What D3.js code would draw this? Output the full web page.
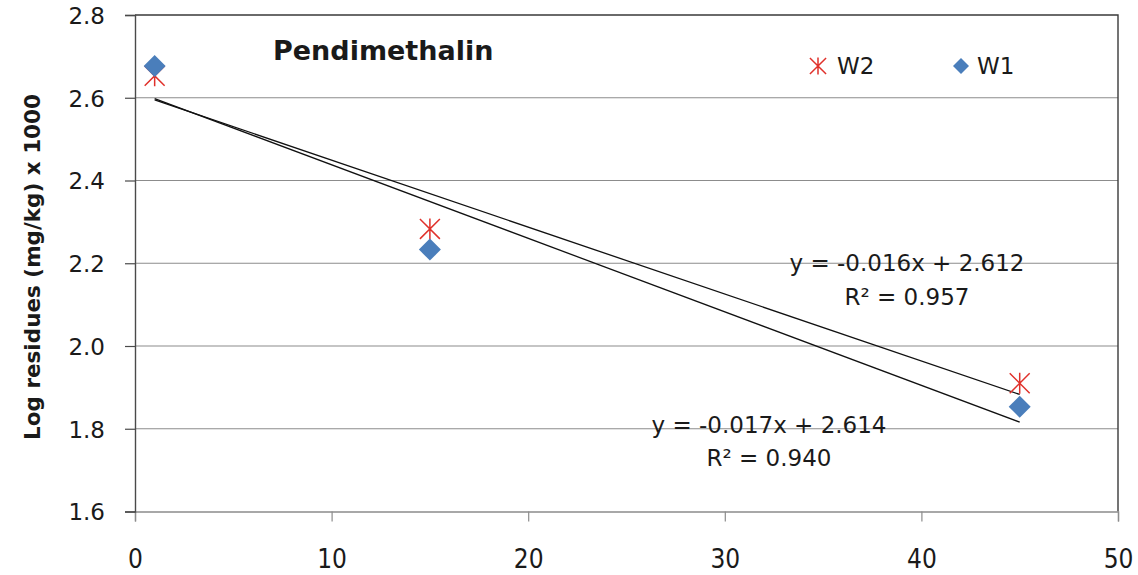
<!DOCTYPE html>
<html>
<head>
<meta charset="utf-8">
<script src="https://cdn.jsdelivr.net/npm/d3@7"></script>
<style>
  html, body { margin: 0; padding: 0; background: #fff; }
  svg { display: block; }
  text { font-family: "DejaVu Sans", sans-serif; fill: #1a1a1a; }
</style>
</head>
<body>
<svg id="chart" width="1138" height="575"></svg>
<script>
// ---- data ----
const days = [1, 15, 45];
const w1Values = [2.677, 2.233, 1.853];
const w2Values = [2.653, 2.283, 1.910];
const xTicks = [0, 10, 20, 30, 40, 50];
const yTicks = [1.6, 1.8, 2.0, 2.2, 2.4, 2.6, 2.8];
const chartTitle = "Pendimethalin";
const yTitle = "Log residues (mg/kg) x 1000";
const w1Equation = ["y = -0.017x + 2.614", "R\u00B2 = 0.940"];
const w2Equation = ["y = -0.016x + 2.612", "R\u00B2 = 0.957"];
const seriesNames = ["W2", "W1"];

// ---- layout ----
const svg = d3.select("#chart");
const W = 1138, H = 575;
const x = d3.scaleLinear().domain([0, 50]).range([135, 1118]);
const y = d3.scaleLinear().domain([1.6, 2.8]).range([511.5, 15]);

svg.append("rect").attr("width", W).attr("height", H).attr("fill", "#fff");

// gridlines
svg.append("g").selectAll("line").data(yTicks.slice(1, -1)).join("line")
  .attr("x1", x(0)).attr("x2", x(50))
  .attr("y1", d => y(d)).attr("y2", d => y(d))
  .attr("stroke", "#8c8c8c").attr("stroke-width", 1.2);

// plot border (top/right)
svg.append("path")
  .attr("d", `M${x(0)},${y(2.8)}H${x(50)}V${y(1.6)}`)
  .attr("fill", "none").attr("stroke", "#3a3a3a").attr("stroke-width", 1.4);

// x axis
const xAxis = svg.append("g").attr("transform", `translate(0,${y(1.6)})`)
  .call(d3.axisBottom(x).tickValues(xTicks).tickSize(10).tickFormat(d3.format("d")));
xAxis.select(".domain").attr("stroke", "#8c8c8c").attr("stroke-width", 1.4);
xAxis.selectAll(".tick line").attr("stroke", "#8c8c8c").attr("stroke-width", 1.2);
xAxis.selectAll(".tick text")
  .attr("y", 47).attr("dy", "0.36em")
  .style("font-family", "'DejaVu Sans Condensed', 'DejaVu Sans', sans-serif")
  .style("font-size", "26px").attr("fill", "#1a1a1a");

// y axis
const yAxis = svg.append("g").attr("transform", `translate(${x(0)},0)`)
  .call(d3.axisLeft(y).tickValues(yTicks).tickSize(10).tickFormat(d3.format(".1f")));
yAxis.select(".domain").attr("stroke", "#4a4a4a").attr("stroke-width", 1.4);
yAxis.selectAll(".tick line").attr("stroke", "#4a4a4a").attr("stroke-width", 1.2);
yAxis.selectAll(".tick text")
  .attr("x", -30)
  .style("font-size", "23px").attr("fill", "#1a1a1a")
  .style("font-family", "'DejaVu Sans', sans-serif")
  .attr("dy", "0.36em");

// y title
svg.append("text")
  .attr("transform", `translate(40,267) rotate(-90)`)
  .attr("text-anchor", "middle")
  .style("font-size", "21.5px").style("font-weight", "bold")
  .text(yTitle);

// chart title
svg.append("text")
  .attr("x", 273).attr("y", 60)
  .style("font-size", "27px").style("font-weight", "bold").attr("fill", "#000")
  .text(chartTitle);

// regression lines computed from data
function regress(xs, ys) {
  const mx = d3.mean(xs), my = d3.mean(ys);
  let sxy = 0, sxx = 0;
  xs.forEach((v, i) => { sxy += (v - mx) * (ys[i] - my); sxx += (v - mx) * (v - mx); });
  const b = sxy / sxx;
  return { slope: b, intercept: my - b * mx };
}
const line = d3.line().x(d => x(d[0])).y(d => y(d[1]));
[w2Values, w1Values].forEach(vals => {
  const r = regress(days, vals);
  const ends = [d3.min(days), d3.max(days)].map(d => [d, r.intercept + r.slope * d]);
  svg.append("path").attr("d", line(ends))
    .attr("fill", "none").attr("stroke", "#111").attr("stroke-width", 1.3);
});

// markers
const red = "#e0312b", blue = "#4a7ebb";
function asterisk(g, cx, cy, r) {
  const a = r * 0.95;
  g.append("path")
    .attr("d", `M${cx},${cy - r}V${cy + r}M${cx - a},${cy - a}L${cx + a},${cy + a}M${cx - a},${cy + a}L${cx + a},${cy - a}`)
    .attr("stroke", red).attr("stroke-width", 1.5).attr("fill", "none");
}
function diamond(g, cx, cy, r) {
  g.append("path")
    .attr("d", `M${cx},${cy - r}L${cx + r},${cy}L${cx},${cy + r}L${cx - r},${cy}Z`)
    .attr("fill", blue);
}
const mk = svg.append("g");
days.forEach((d, i) => asterisk(mk, x(d), y(w2Values[i]), 10.5));
days.forEach((d, i) => diamond(mk, x(d), y(w1Values[i]), 11));

// equation labels
function eq(lines, cx, cy1, cy2) {
  svg.append("text").attr("x", cx).attr("y", cy1).attr("dy", "0.36em")
    .attr("text-anchor", "middle").style("font-size", "23px").attr("fill", "#333").text(lines[0]);
  svg.append("text").attr("x", cx).attr("y", cy2).attr("dy", "0.36em")
    .attr("text-anchor", "middle").style("font-size", "23px").attr("fill", "#333").text(lines[1]);
}
eq(w2Equation, 907, 263, 297);
eq(w1Equation, 769, 425, 458);

// legend
const lg = svg.append("g");
asterisk(lg, 818, 66, 8.5);
lg.append("text").attr("x", 837).attr("y", 66).attr("dy", "0.36em")
  .style("font-size", "23px").text(seriesNames[0]);
diamond(lg, 961, 66, 8);
lg.append("text").attr("x", 977).attr("y", 66).attr("dy", "0.36em")
  .style("font-size", "23px").text(seriesNames[1]);
</script>
</body>
</html>
